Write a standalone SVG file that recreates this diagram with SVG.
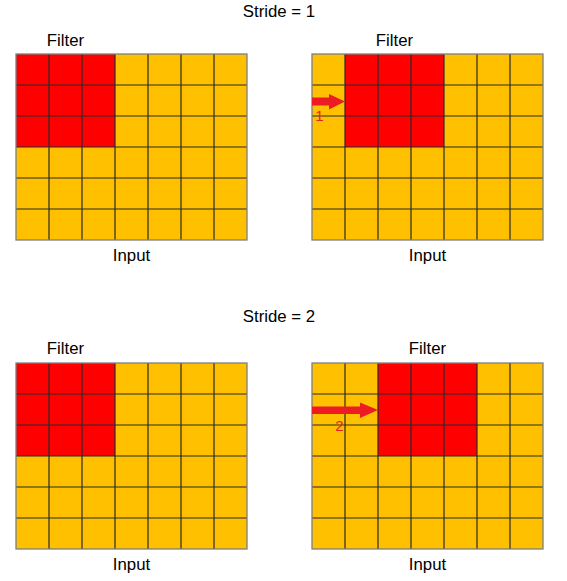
<svg xmlns="http://www.w3.org/2000/svg" width="567" height="581" viewBox="0 0 567 581">
<defs>
<style>
text{font-family:"Liberation Sans",Arial,sans-serif;font-size:16.8px;fill:#000;text-anchor:middle}
.num{fill:#E8202A;font-size:15px}
.bg{fill:#FFC000}
.flt{fill:#FF0000}
.ln{stroke:#2a2a2a;stroke-width:1.2;fill:none}
.bd{stroke:#7f7f7f;stroke-width:1.3;fill:none}
.arr{fill:#ED1C24}
</style>
<g id="grid">
<rect class="bg" x="0" y="0" width="231" height="186"/>
</g>
<g id="lines">
<path class="ln" d="M33 0V186M66 0V186M99 0V186M132 0V186M165 0V186M198 0V186M0 31H231M0 62H231M0 93H231M0 124H231M0 155H231"/>
<rect class="bd" x="0" y="0" width="231" height="186"/>
</g>
</defs>
<text x="279" y="17">Stride = 1</text>
<text x="279" y="322">Stride = 2</text>
<g id="panel1">
<g transform="translate(16,54)">
<use href="#grid"/>
<rect class="flt" x="0" y="0" width="99" height="93"/>
<use href="#lines"/>
</g>
<text x="65.5" y="46">Filter</text>
<text x="131.5" y="261">Input</text>
</g>
<g id="panel2">
<g transform="translate(312,54)">
<use href="#grid"/>
<rect class="flt" x="33" y="0" width="99" height="93"/>
<use href="#lines"/>
</g>
<text x="394.5" y="46">Filter</text>
<text x="427.5" y="261">Input</text>
</g>
<g id="panel3">
<g transform="translate(16,363)">
<use href="#grid"/>
<rect class="flt" x="0" y="0" width="99" height="93"/>
<use href="#lines"/>
</g>
<text x="65.5" y="354">Filter</text>
<text x="131.5" y="570">Input</text>
</g>
<g id="panel4">
<g transform="translate(312,363)">
<use href="#grid"/>
<rect class="flt" x="66" y="0" width="99" height="93"/>
<use href="#lines"/>
</g>
<text x="427.5" y="354">Filter</text>
<text x="427.5" y="570">Input</text>
</g>
<g id="connectors">
<polygon class="arr" points="312,97.5 329,97.5 329,94 345,101.5 329,109.5 329,105.5 312,105.5"/>
<polygon class="arr" points="312,406.5 360,406.5 360,402.5 378,410 360,418 360,414 312,414"/>
</g>
<text class="num" x="319.5" y="121">1</text>
<text class="num" x="339.5" y="431">2</text>
</svg>
